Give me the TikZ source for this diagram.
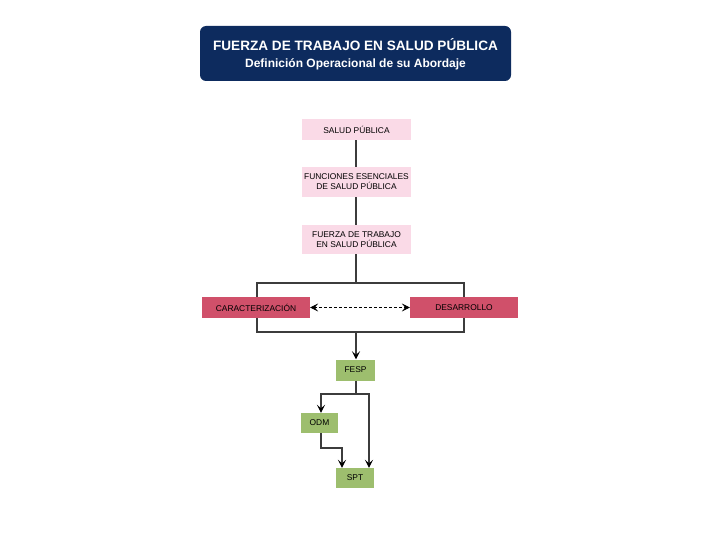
\documentclass[tikz,border=0pt]{standalone}
\usepackage{fontspec}
\setmainfont{Liberation Sans}
\usetikzlibrary{arrows.meta}
\definecolor{navy}{HTML}{0D2B5E}
\definecolor{pinkbox}{HTML}{FADAE7}
\definecolor{redbox}{HTML}{D0506A}
\definecolor{greenbox}{HTML}{9DBE6E}
\definecolor{linec}{HTML}{3C3C3C}
\begin{document}
\begin{tikzpicture}[x=1pt,y=-1pt,
  pinkb/.style={fill=pinkbox,draw=none,minimum width=109pt,align=center,font=\fontsize{8.4}{10}\selectfont,inner sep=0pt},
  redb/.style={fill=redbox,draw=none,minimum width=108pt,minimum height=21pt,font=\fontsize{8.4}{10}\selectfont,inner sep=0pt},
  greenb/.style={fill=greenbox,draw=none,minimum height=21pt,font=\fontsize{8.4}{10}\selectfont,inner sep=0pt},
  conn/.style={draw=linec,line width=2.2pt},
  arr/.style={conn,-{Stealth[length=8pt,width=8pt,inset=3.5pt,black]}}]
\useasboundingbox (0,0) rectangle (720,540);
\node[fill=navy,rounded corners=6pt,minimum width=311pt,minimum height=55pt,inner sep=0pt] (title) at (355.5,53.5) {};
\node[text=white,font=\bfseries\fontsize{13.6}{15}\selectfont] (t1) at (355.5,45) {FUERZA DE TRABAJO EN SALUD PÚBLICA};
\node[text=white,font=\bfseries\fontsize{12}{14}\selectfont] (t2) at (355.5,64.5) {Definición Operacional de su Abordaje};

\node[pinkb,minimum height=21pt] (sp) at (356.5,129.5) {SALUD PÚBLICA};
\node[pinkb,minimum height=30pt] (fe) at (356.5,182) {FUNCIONES ESENCIALES\\DE SALUD PÚBLICA};
\node[pinkb,minimum height=29pt] (ft) at (356.5,239.5) {FUERZA DE TRABAJO\\EN SALUD PÚBLICA};

\coordinate (btop) at (356,283);
\coordinate (bbot) at (356,332);
\coordinate (btl) at (257,283);
\coordinate (btr) at (464,283);
\coordinate (bbl) at (257,332);
\coordinate (bbr) at (464,332);

\draw[conn] (sp.south -| 356,0) -- (fe.north -| 356,0);
\draw[conn] (fe.south -| 356,0) -- (ft.north -| 356,0);
\draw[conn] (ft.south -| 356,0) -- (btop);
\draw[conn,line cap=rect] (bbl) -- (btl) -- (btr) -- (bbr) -- cycle;

\node[redb] (car) at (256,307.5) {CARACTERIZACIÓN};
\node[redb] (des) at (464,307.5) {DESARROLLO};
\draw[densely dashed,line width=0.6pt,{Stealth[length=8pt,width=8pt,inset=3.5pt]}-{Stealth[length=8pt,width=8pt,inset=3.5pt]}] (car.east) -- (des.east -| des.west);

\node[greenb,minimum width=39pt] (fesp) at (355.5,370) {FESP};
\node[greenb,minimum width=37pt,minimum height=20pt] (odm) at (319.5,423) {ODM};
\node[greenb,minimum width=38pt,minimum height=20pt] (spt) at (355,478) {SPT};

\draw[arr] (bbot) -- (fesp.north -| bbot);
\coordinate (fsplit) at (356,394);
\draw[conn] (fesp.south -| fsplit) -- (fsplit);
\draw[arr] (fsplit) -| (odm.north -| 321,0);
\draw[arr] (fsplit) -| (spt.north -| 369,0);
\coordinate (obend) at (321,448);
\draw[arr] (odm.south -| obend) |- (342,448) -- (spt.north -| 342,0);
\end{tikzpicture}
\end{document}
